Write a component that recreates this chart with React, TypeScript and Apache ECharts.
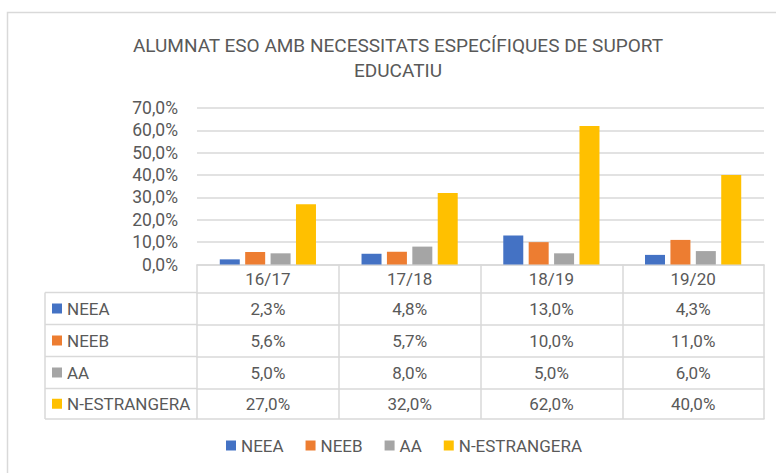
import React, { useEffect, useRef } from "react";
import * as echarts from "echarts";

const categories = ["16/17", "17/18", "18/19", "19/20"];
const seriesNames = ["NEEA", "NEEB", "AA", "N-ESTRANGERA"];
const neea = [2.3, 4.8, 13.0, 4.3];
const neeb = [5.6, 5.7, 10.0, 11.0];
const aa = [5.0, 8.0, 5.0, 6.0];
const nEstrangera = [27.0, 32.0, 62.0, 40.0];
const yTicks = { min: 0, max: 70, interval: 10 };
const titleText = "ALUMNAT ESO AMB NECESSITATS ESPECÍFIQUES DE SUPORT\nEDUCATIU";

const seriesValues = [neea, neeb, aa, nEstrangera];
const colors = ["#4472C4", "#ED7D31", "#A5A5A5", "#FFC000"];

const FONT = "Roboto";
const TXT = "#595959";
const LINE = "#D9D9D9";
const FS = 17;

const fmt = (v: number) => v.toFixed(1).replace(".", ",") + "%";

export default function App() {
  const ref = useRef<HTMLDivElement>(null);
  useEffect(() => {
    if (!ref.current) return;
    const chart = echarts.init(ref.current, null, { renderer: "svg" });

    const W = 776;
    const H = 473;
    const gridLeft = 197;
    const gridRight = 764;
    const gridTop = 108;
    const axisY = 264.5;
    // table row boundaries (y)
    const rowLines = [292.5, 324.5, 356.5, 388.5, 419];
    const headerMid = (axisY + rowLines[0]) / 2;
    const tableLeft = 45;

    const xAxes: any[] = [
      {
        type: "category",
        data: categories,
        position: "bottom",
        axisLine: { show: true, lineStyle: { color: LINE, width: 1.5 } },
        axisTick: {
          show: true,
          interval: 0,
          length: rowLines[rowLines.length - 1] - axisY,
          lineStyle: { color: LINE, width: 1.5 },
        },
        axisLabel: {
          color: TXT,
          fontFamily: FONT,
          fontSize: FS,
          verticalAlign: "middle",
          margin: headerMid - axisY,
        },
        splitLine: { show: false },
      },
    ];
    seriesValues.forEach((vals, i) => {
      const top = rowLines[i];
      const bottom = rowLines[i + 1];
      xAxes.push({
        type: "category",
        data: categories,
        position: "bottom",
        offset: top - axisY,
        axisLine: { show: true, lineStyle: { color: LINE, width: 1.5 } },
        axisTick: { show: false },
        axisLabel: {
          color: TXT,
          fontFamily: FONT,
          fontSize: FS,
          verticalAlign: "middle",
          margin: (bottom - top) / 2,
          formatter: (_v: string, idx: number) => fmt(vals[idx]),
        },
        splitLine: { show: false },
      });
    });
    xAxes.push({
      type: "category",
      data: categories,
      position: "bottom",
      offset: rowLines[rowLines.length - 1] - axisY,
      axisLine: { show: true, lineStyle: { color: LINE, width: 1.5 } },
      axisTick: { show: false },
      axisLabel: { show: false },
      splitLine: { show: false },
    });

    const graphics: any[] = [
      {
        type: "rect",
        shape: { x: 7.5, y: 12.5, width: W + 20, height: H + 20 },
        style: { fill: "none", stroke: LINE, lineWidth: 1.5 },
        silent: true,
      },
      {
        type: "text",
        style: {
          text: titleText,
          x: 398,
          y: 33,
          align: "center",
          verticalAlign: "top",
          fill: TXT,
          font: `19px ${FONT}`,
          lineHeight: 25,
        },
      },
      {
        type: "line",
        shape: { x1: tableLeft, y1: rowLines[0], x2: tableLeft, y2: rowLines[rowLines.length - 1] },
        style: { stroke: LINE, lineWidth: 1.5 },
      },
    ];
    rowLines.forEach((y) => {
      graphics.push({
        type: "line",
        shape: { x1: tableLeft, y1: y, x2: gridLeft, y2: y },
        style: { stroke: LINE, lineWidth: 1.5 },
      });
    });
    seriesNames.forEach((name, i) => {
      const mid = (rowLines[i] + rowLines[i + 1]) / 2;
      graphics.push({
        type: "rect",
        shape: { x: 52, y: mid - 5, width: 10, height: 10 },
        style: { fill: colors[i] },
      });
      graphics.push({
        type: "text",
        style: {
          text: name,
          x: 67,
          y: mid,
          verticalAlign: "middle",
          align: "left",
          fill: TXT,
          font: `${FS}px ${FONT}`,
        },
      });
    });

    chart.setOption({
      animation: false,
      color: colors,
      grid: {
        left: gridLeft,
        right: W - gridRight,
        top: gridTop,
        bottom: H - axisY,
        containLabel: false,
      },
      legend: {
        data: seriesNames,
        left: 226,
        top: 437,
        padding: 0,
        itemWidth: 10,
        itemHeight: 10,
        itemGap: 22,
        icon: "rect",
        textStyle: { color: TXT, fontFamily: FONT, fontSize: FS },
      },
      xAxis: xAxes,
      yAxis: {
        type: "value",
        min: yTicks.min,
        max: yTicks.max,
        interval: yTicks.interval,
        axisLine: { show: false },
        axisTick: { show: false },
        axisLabel: {
          color: TXT,
          fontFamily: FONT,
          fontSize: 17.5,
          margin: 19,
          formatter: (v: number) => fmt(v),
        },
        splitLine: { lineStyle: { color: LINE, width: 1.5 } },
      },
      series: seriesNames.map((name, i) => ({
        name,
        type: "bar",
        xAxisIndex: 0,
        data: seriesValues[i],
        barWidth: 20,
        barGap: "27%",
        itemStyle: { color: colors[i] },
      })),
      graphic: graphics,
    });

    return () => chart.dispose();
  }, []);

  return (
    <div
      ref={ref}
      style={{ position: "fixed", left: 0, top: 0, width: 776, height: 473, background: "#fff" }}
    />
  );
}
